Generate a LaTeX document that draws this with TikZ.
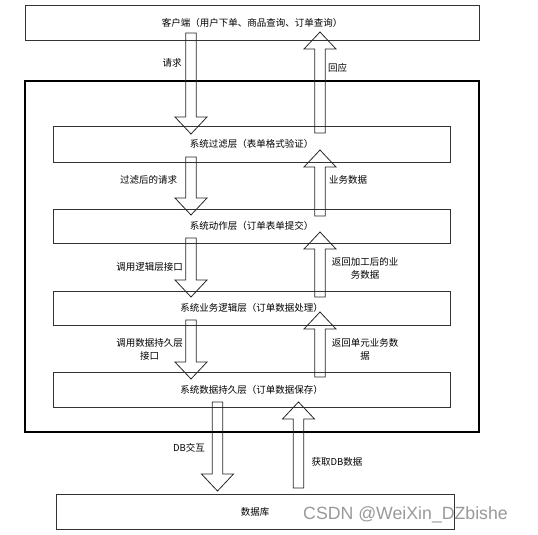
\documentclass[tikz,border=0pt]{standalone}
\usepackage{fontspec}
\setmainfont{Noto Sans CJK SC}
\newfontfamily\wmfont{Liberation Sans}
\usetikzlibrary{calc}

\newcommand{\blockar}[2]{%
  \draw[blk] let \p1=(#1), \p2=(#2), \n1={sign(\y2-\y1)} in
    ({\x1-5.2pt},{\y1}) -- ({\x1-5.2pt},{\y2-\n1*17pt}) -- ({\x1-16pt},{\y2-\n1*17pt})
    -- (\x2,\y2) -- ({\x1+16pt},{\y2-\n1*17pt}) -- ({\x1+5.2pt},{\y2-\n1*17pt})
    -- ({\x1+5.2pt},{\y1}) -- cycle;}

\begin{document}
\begin{tikzpicture}[x=1pt,y=-1pt,
  box/.style={draw=black!80,line width=0.8pt,inner sep=0pt,font=\fontsize{9.5}{13}\selectfont},
  lbl/.style={font=\fontsize{9.5}{13}\selectfont,align=center,inner sep=0pt},
  blk/.style={draw=black!85,line width=0.8pt,line join=miter}]
\useasboundingbox (0,0) rectangle (538,535);
\node[box,minimum width=454pt,minimum height=35pt] (client) at (252,22.5) {客户端（用户下单、商品查询、订单查询）};
\draw[line width=2pt] (25,81) rectangle (479,432);
\node[box,minimum width=397pt,minimum height=36pt] (filt) at (251.5,144) {系统过滤层（表单格式验证）};
\node[box,minimum width=397pt,minimum height=34pt] (act) at (251.5,226) {系统动作层（订单表单提交）};
\node[box,minimum width=397pt,minimum height=34pt] (logic) at (251.5,308) {系统业务逻辑层（订单数据处理）};
\node[box,minimum width=397pt,minimum height=35pt] (pers) at (251.5,389.5) {系统数据持久层（订单数据保存）};
\node[box,minimum width=398pt,minimum height=35pt] (db) at (255,511.5) {数据库};
\coordinate (q1a) at (191,33);  \coordinate (q1b) at (191,134);
\coordinate (q2a) at (191,157); \coordinate (q2b) at (191,215);
\coordinate (q3a) at (191,238); \coordinate (q3b) at (191,297);
\coordinate (q4a) at (191,320); \coordinate (q4b) at (191,379);
\coordinate (q5a) at (217.5,402); \coordinate (q5b) at (217.5,491);
\coordinate (r1a) at (320,133); \coordinate (r1b) at (320,32);
\coordinate (r2a) at (320,216); \coordinate (r2b) at (320,150);
\coordinate (r3a) at (320,297); \coordinate (r3b) at (320,232);
\coordinate (r4a) at (320,377); \coordinate (r4b) at (320,312);
\coordinate (r5a) at (298.5,488); \coordinate (r5b) at (298.5,402);
\blockar{q1a}{q1b}
\blockar{q2a}{q2b}
\blockar{q3a}{q3b}
\blockar{q4a}{q4b}
\blockar{q5a}{q5b}
\blockar{r1a}{r1b}
\blockar{r2a}{r2b}
\blockar{r3a}{r3b}
\blockar{r4a}{r4b}
\blockar{r5a}{r5b}
\node[lbl] (t1) at (172,63) {请求};
\node[lbl] (t2) at (337.5,68) {回应};
\node[lbl] (t3) at (148.5,180) {过滤后的请求};
\node[lbl] (t4) at (348,180) {业务数据};
\node[lbl] (t5) at (149.5,267) {调用逻辑层接口};
\node[lbl] (t6) at (365,268) {返回加工后的业\\务数据};
\node[lbl] (t7) at (149.5,349.5) {调用数据持久层\\接口};
\node[lbl] (t8) at (365,349.5) {返回单元业务数\\据};
\node[lbl] (t9) at (189,448) {DB交互};
\node[lbl] (t10) at (337,462) {获取DB数据};
\node[font=\wmfont\fontsize{17.7}{20}\selectfont,text=black!40,inner sep=0pt] (wm) at (405.5,515) {CSDN @WeiXin\_DZbishe};
\end{tikzpicture}
\end{document}
